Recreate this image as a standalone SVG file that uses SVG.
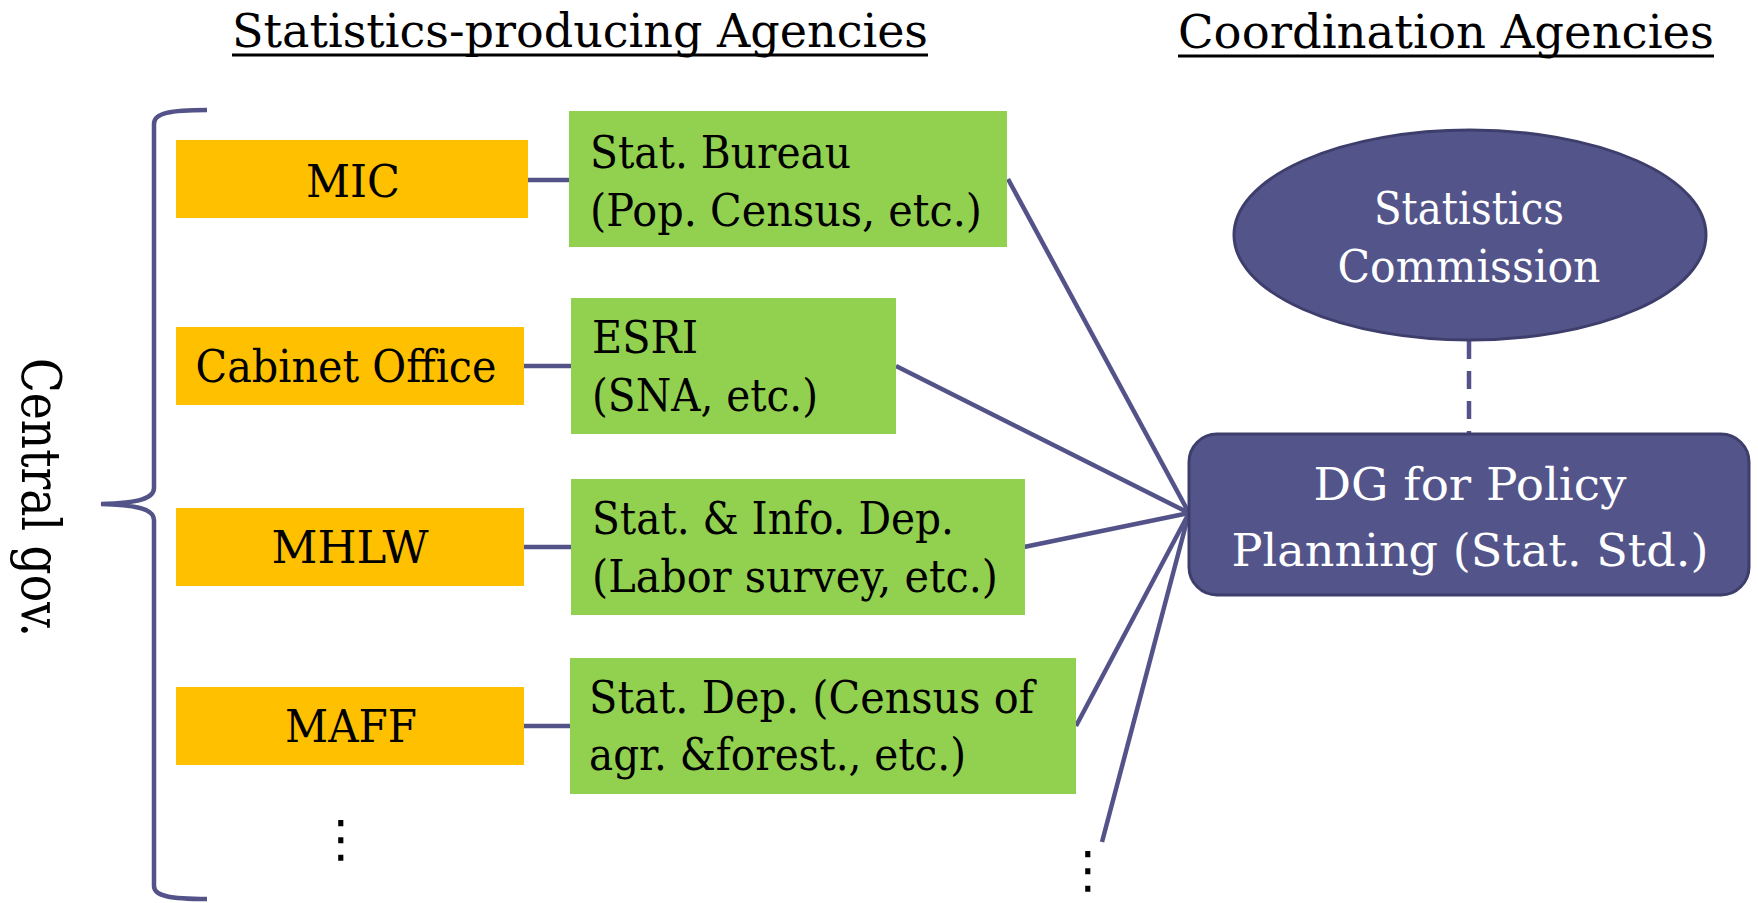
<svg xmlns="http://www.w3.org/2000/svg" width="1758" height="903" viewBox="0 0 1758 903">
<style>
text{font-family:"DejaVu Serif","Liberation Serif",serif;fill:#000}
.t{font-size:46px}
.b{font-size:44px}
.w{fill:#fff}
.org{fill:#FFC000}
.grn{fill:#92D050}
.ln{stroke:#535389;stroke-width:4.5;fill:none}
.ul{stroke:#000;stroke-width:3}
.dots{font-family:"DejaVu Sans",sans-serif;font-size:50px}
</style>
<rect width="1758" height="903" fill="#fff"/>
<g id="titles">
<text class="t" x="232" y="47" textLength="696" lengthAdjust="spacingAndGlyphs">Statistics-producing Agencies</text>
<line class="ul" x1="232" y1="55" x2="928" y2="55"/>
<text class="t" x="1178" y="48" textLength="536" lengthAdjust="spacingAndGlyphs">Coordination Agencies</text>
<line class="ul" x1="1178" y1="56" x2="1714" y2="56"/>
</g>
<g id="central-gov">
<path class="ln" d="M207 110 C170 110 154 113 154 124 L154 488 C154 498 140 503 101 504 C140 505 154 510 154 520 L154 886 C154 896 170 899 207 899"/>
<text transform="translate(22,358) rotate(90)" style="font-size:55px" textLength="279" lengthAdjust="spacingAndGlyphs">Central gov.</text>
</g>
<g id="connectors">
<line class="ln" x1="528" y1="180" x2="569" y2="180"/>
<line class="ln" x1="524" y1="366" x2="571" y2="366"/>
<line class="ln" x1="524" y1="547" x2="571" y2="547"/>
<line class="ln" x1="524" y1="726" x2="570" y2="726"/>
<line class="ln" x1="1008" y1="179" x2="1189" y2="513"/>
<line class="ln" x1="896" y1="366" x2="1189" y2="513"/>
<line class="ln" x1="1024" y1="547" x2="1189" y2="513"/>
<line class="ln" x1="1076" y1="726" x2="1189" y2="513"/>
<line class="ln" x1="1102" y1="842" x2="1189" y2="513"/>
<line class="ln" x1="1469" y1="341" x2="1469" y2="434" stroke-dasharray="18 12"/>
</g>
<g id="mic">
<rect class="org" x="176" y="140" width="352" height="78"/>
<text class="b" x="353" y="197" text-anchor="middle" textLength="94" lengthAdjust="spacingAndGlyphs">MIC</text>
</g>
<g id="cabinet-office">
<rect class="org" x="176" y="327" width="348" height="78"/>
<text class="b" x="346" y="382" text-anchor="middle" textLength="301" lengthAdjust="spacingAndGlyphs">Cabinet Office</text>
</g>
<g id="mhlw">
<rect class="org" x="176" y="508" width="348" height="78"/>
<text class="b" x="350" y="563" text-anchor="middle" textLength="157" lengthAdjust="spacingAndGlyphs">MHLW</text>
</g>
<g id="maff">
<rect class="org" x="176" y="687" width="348" height="78"/>
<text class="b" x="351" y="742" text-anchor="middle" textLength="132" lengthAdjust="spacingAndGlyphs">MAFF</text>
</g>
<g id="stat-bureau">
<rect class="grn" x="569" y="111" width="438" height="136"/>
<text class="b" x="590" y="168" textLength="261" lengthAdjust="spacingAndGlyphs">Stat. Bureau</text>
<text class="b" x="590" y="226" textLength="392" lengthAdjust="spacingAndGlyphs">(Pop. Census, etc.)</text>
</g>
<g id="esri">
<rect class="grn" x="571" y="298" width="325" height="136"/>
<text class="b" x="592" y="353" textLength="106" lengthAdjust="spacingAndGlyphs">ESRI</text>
<text class="b" x="592" y="411" textLength="226" lengthAdjust="spacingAndGlyphs">(SNA, etc.)</text>
</g>
<g id="stat-info-dep">
<rect class="grn" x="571" y="479" width="454" height="136"/>
<text class="b" x="592" y="534" textLength="362" lengthAdjust="spacingAndGlyphs">Stat. &amp; Info. Dep.</text>
<text class="b" x="592" y="592" textLength="406" lengthAdjust="spacingAndGlyphs">(Labor survey, etc.)</text>
</g>
<g id="stat-dep">
<rect class="grn" x="570" y="658" width="506" height="136"/>
<text class="b" x="589" y="713" textLength="445" lengthAdjust="spacingAndGlyphs">Stat. Dep. (Census of</text>
<text class="b" x="589" y="770" textLength="377" lengthAdjust="spacingAndGlyphs">agr. &amp;forest., etc.)</text>
</g>
<g id="statistics-commission">
<ellipse cx="1470" cy="235" rx="236" ry="105" fill="#53548A" stroke="#3D3E6B" stroke-width="3"/>
<text class="b w" x="1469" y="224" text-anchor="middle" textLength="190" lengthAdjust="spacingAndGlyphs">Statistics</text>
<text class="b w" x="1469" y="282" text-anchor="middle" textLength="263" lengthAdjust="spacingAndGlyphs">Commission</text>
</g>
<g id="dg-policy-planning">
<rect x="1189" y="434" width="560" height="161" rx="28" ry="28" fill="#53548A" stroke="#3D3E6B" stroke-width="3"/>
<text class="b w" x="1470" y="500" text-anchor="middle" textLength="313" lengthAdjust="spacingAndGlyphs">DG for Policy</text>
<text class="b w" x="1470" y="566" text-anchor="middle" textLength="477" lengthAdjust="spacingAndGlyphs">Planning (Stat. Std.)</text>
</g>
<g id="ellipses">
<text class="dots" x="341" y="856" text-anchor="middle">⋮</text>
<text class="dots" x="1088" y="887" text-anchor="middle">⋮</text>
</g>
</svg>
